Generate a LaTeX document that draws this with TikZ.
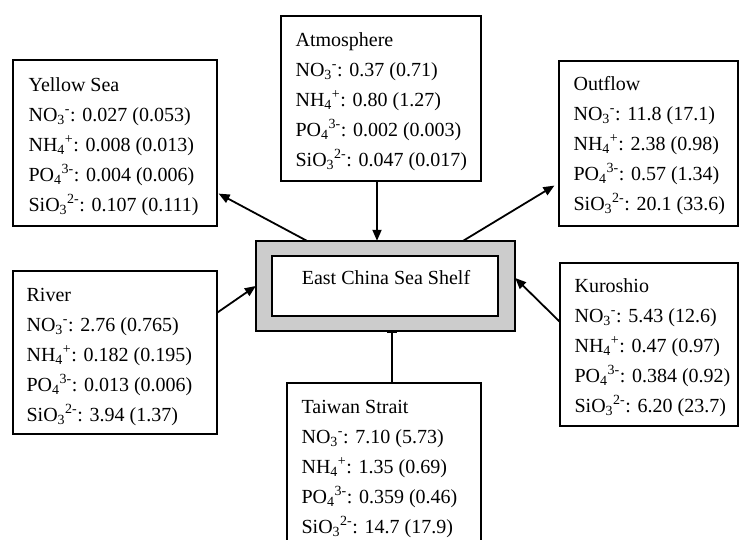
\documentclass[tikz,border=0pt]{standalone}
\usepackage{fontspec}
\setmainfont{Liberation Serif}
\usetikzlibrary{arrows.meta,calc}
\definecolor{shelfgray}{RGB}{204,204,204}
\newcommand{\NOt}{NO\textsubscript{3}\textsuperscript{-}}
\newcommand{\NHf}{NH\textsubscript{4}\textsuperscript{+}}
\newcommand{\POf}{PO\textsubscript{4}\textsuperscript{3-}}
\newcommand{\SiOt}{SiO\textsubscript{3}\textsuperscript{2-}}
\begin{document}
\begin{tikzpicture}[x=1pt,y=1pt,
  srcbox/.style={draw, line width=1.2pt, inner sep=0pt, fill=white},
  txt/.style={align=left, anchor=base west, inner sep=0pt, font=\fontsize{20}{30}\selectfont},
  arr/.style={line width=1.8pt, -{Triangle[length=11pt,width=9pt]}}]
\clip (0,0) rectangle (739,540);
\fill[white] (0,0) rectangle (739,540);
% source boxes
\node[srcbox, minimum width=200pt, minimum height=165pt] (atm) at (381,441.5) {};
\node[srcbox, minimum width=204pt, minimum height=166pt] (ys) at (115,397) {};
\node[srcbox, minimum width=179pt, minimum height=165pt] (of) at (648.5,396.5) {};
\node[srcbox, minimum width=204pt, minimum height=163pt] (riv) at (115,187.5) {};
\node[srcbox, minimum width=178pt, minimum height=163pt] (ku) at (649,195.5) {};
\node[srcbox, minimum width=194pt, minimum height=165pt] (ts) at (384,74.5) {};
% texts (base anchor = last line's baseline)
\node[txt] (atmT) at ($(atm.north west)+(15,-151)$) {Atmosphere\\\NOt: 0.37 (0.71)\\\NHf: 0.80 (1.27)\\\POf: 0.002 (0.003)\\\SiOt: 0.047 (0.017)};
\node[txt] (ysT) at ($(ys.north west)+(16,-152)$) {Yellow Sea\\\NOt: 0.027 (0.053)\\\NHf: 0.008 (0.013)\\\POf: 0.004 (0.006)\\\SiOt: 0.107 (0.111)};
\node[txt] (ofT) at ($(of.north west)+(15,-150)$) {Outflow\\\NOt: 11.8 (17.1)\\\NHf: 2.38 (0.98)\\\POf: 0.57 (1.34)\\\SiOt: 20.1 (33.6)};
\node[txt] (rivT) at ($(riv.north west)+(14,-151)$) {River\\\NOt: 2.76 (0.765)\\\NHf: 0.182 (0.195)\\\POf: 0.013 (0.006)\\\SiOt: 3.94 (1.37)};
\node[txt] (kuT) at ($(ku.north west)+(15,-150)$) {Kuroshio\\\NOt: 5.43 (12.6)\\\NHf: 0.47 (0.97)\\\POf: 0.384 (0.92)\\\SiOt: 6.20 (23.7)};
\node[txt] (tsT) at ($(ts.north west)+(15,-151)$) {Taiwan Strait\\\NOt: 7.10 (5.73)\\\NHf: 1.35 (0.69)\\\POf: 0.359 (0.46)\\\SiOt: 14.7 (17.9)};
% central shelf (position only, drawn below after connectors)
\path (385.5,254) node[minimum width=259pt, minimum height=90pt, inner sep=0pt] (shelf) {};
% connectors
\coordinate (atmOut) at ($(atm.south)+(-4,0)$);
\draw[arr] (atmOut) -- (atmOut |- shelf.north);
\coordinate (ysStart) at ($(shelf.north west)+(51,0)$);
\draw[arr] (ysStart) -- ($(ys.south east)+(1,33)$);
\coordinate (ofStart) at ($(shelf.north east)+(-52,0)$);
\draw[arr] (ofStart) -- ($(of.south west)+(-4,41)$);
\draw[arr] ($(riv.north east)+(0,-42)$) -- (shelf.west);
\draw[arr] ($(ku.north west)+(0,-59)$) -- ($(shelf.east)+(0,8)$);
\coordinate (tsTop) at ($(ts.north)+(8,0)$);
\draw[line width=1.8pt, -{Rectangle[length=2pt,width=10pt]}] (tsTop) -- (tsTop |- shelf.south);
% shelf boxes
\node[draw, line width=1.5pt, fill=shelfgray, minimum width=259pt, minimum height=90pt, inner sep=0pt] (shelfO) at (shelf.center) {};
\node[draw, line width=1.5pt, fill=white, minimum width=226pt, minimum height=60pt, inner sep=0pt] (shelfI) at (385,254) {};
\node[anchor=base, inner sep=0pt, font=\fontsize{20}{30}\selectfont] (shelfT) at (386,255) {East China Sea Shelf};
\end{tikzpicture}
\end{document}
